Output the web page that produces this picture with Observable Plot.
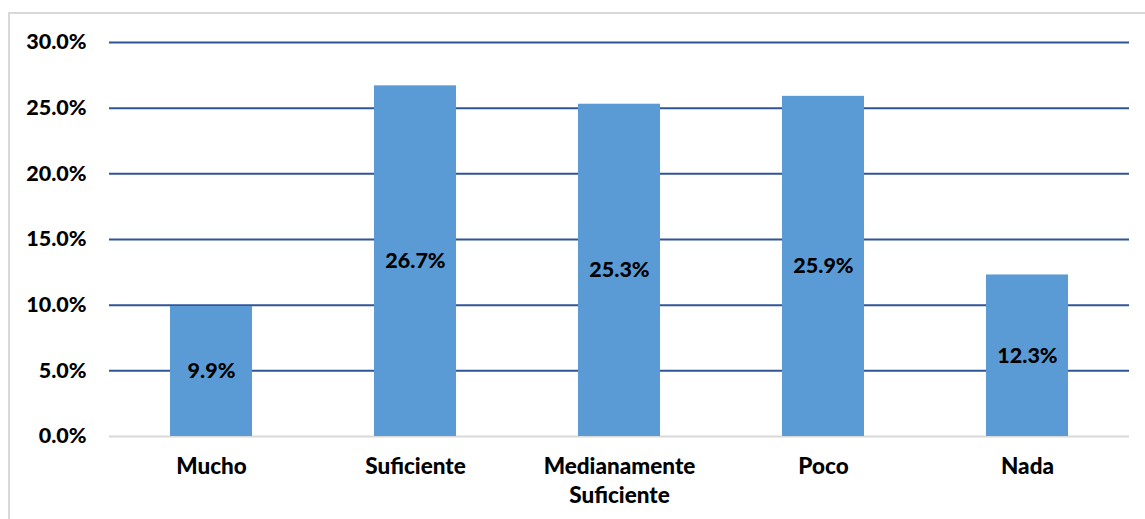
<!DOCTYPE html>
<html>
<head>
<meta charset="utf-8">
<script src="https://cdn.jsdelivr.net/npm/d3@7"></script>
<script src="https://cdn.jsdelivr.net/npm/@observablehq/plot@0.6"></script>
<style>
  html, body { margin: 0; padding: 0; background: #fff; overflow: hidden; }
  #wrap { position: relative; width: 1145px; height: 519px; }
  #frame { position: absolute; left: 8px; top: 12px; width: 1160px; height: 540px; border: 2px solid #d9d9d9; box-sizing: border-box; }
  #chart { position: absolute; left: 0; top: 0; }
</style>
</head>
<body>
<div id="wrap"><div id="frame"></div><div id="chart"></div></div>
<script>
const categories = ["Mucho", "Suficiente", "Medianamente\nSuficiente", "Poco", "Nada"];
const values = [9.9, 26.7, 25.3, 25.9, 12.3];
const yTicks = [0, 5, 10, 15, 20, 25, 30];

const data = categories.map((c, i) => ({category: c, value: values[i]}));
const font = "Lato, 'Open Sans', sans-serif";

const chart = Plot.plot({
  width: 1145,
  height: 519,
  marginLeft: 109,
  marginRight: 16,
  marginTop: 42,
  marginBottom: 83,
  style: {fontFamily: font, fontSize: "21px", fontWeight: "bold", color: "#000", background: "transparent"},
  x: {domain: categories, paddingInner: 0.6, paddingOuter: 0.3, label: null},
  y: {domain: [0, 30], label: null},
  marks: [
    Plot.ruleY(yTicks.filter(d => d > 0), {stroke: "#2f5597", strokeWidth: 2}),
    Plot.ruleY([0], {stroke: "#d9d9d9", strokeWidth: 2}),
    Plot.barY(data, {x: "category", y: "value", fill: "#5b9bd5"}),
    Plot.text(data, {x: "category", y: d => d.value / 2, text: d => d.value.toFixed(1) + "%", fill: "#000", fontSize: 21.5, fontWeight: 900}),
    Plot.axisY({ticks: yTicks, tickSize: 0, tickPadding: 23, tickFormat: d => d.toFixed(1) + "%", fontSize: 21.5, fontWeight: 900, fill: "#000"}),
    Plot.axisX({tickSize: 0, tickPadding: 18, fontSize: 22.5, fontWeight: 900, fill: "#000", lineHeight: 1.25})
  ]
});
document.getElementById("chart").appendChild(chart);
</script>
</body>
</html>
